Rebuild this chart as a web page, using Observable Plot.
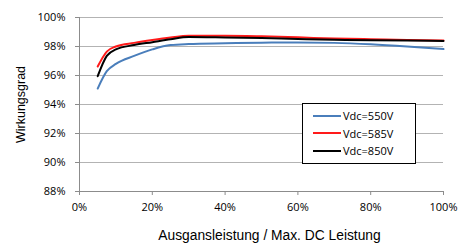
<!DOCTYPE html>
<html><head><meta charset="utf-8">
<script src="https://cdn.jsdelivr.net/npm/d3@7"></script>
<script src="https://cdn.jsdelivr.net/npm/@observablehq/plot@0.6"></script>
<style>
body{margin:0;background:#fff;}
#wrap{position:relative;width:467px;height:248px;}
#legend{position:absolute;left:302px;top:103px;width:114px;height:61px;border:1px solid #000;background:#fff;font:11px "Open Sans",sans-serif;color:#000;box-sizing:border-box;padding-top:3px;}
#legend .row{display:flex;align-items:center;height:17.5px;}
#legend .sw{width:28px;height:2px;margin-left:10px;margin-right:2px;}
</style>
</head><body>
<div id="wrap"><div id="legend"></div></div>
<script>
const loads = [5, 7.5, 10, 15, 20, 25, 30, 40, 50, 60, 70, 80, 90, 100];
const v550 = [95.1, 96.3, 96.8, 97.35, 97.8, 98.1, 98.17, 98.22, 98.26, 98.28, 98.25, 98.15, 98.0, 97.82];
const v585 = [96.62, 97.65, 98.0, 98.25, 98.45, 98.62, 98.74, 98.74, 98.7, 98.63, 98.55, 98.5, 98.45, 98.42];
const v850 = [95.95, 97.35, 97.8, 98.1, 98.3, 98.5, 98.65, 98.62, 98.58, 98.52, 98.47, 98.43, 98.41, 98.38];
const seriesNames = ["Vdc=550V", "Vdc=585V", "Vdc=850V"];
const seriesColors = ["#4a7ebb", "#ff1a1a", "#000000"];
const xTicks = [0, 20, 40, 60, 80, 100];
const yTicks = [88, 90, 92, 94, 96, 98, 100];
const xTitle = "Ausgansleistung / Max. DC Leistung";
const yTitle = "Wirkungsgrad";

const allVals = [v550, v585, v850];
const data = [];
seriesNames.forEach((s, i) => loads.forEach((x, j) => data.push({series: s, x, y: allVals[i][j]})));

const tickFont = {fontFamily: "Open Sans, sans-serif", fontSize: 11};
const titleFont = "Liberation Sans, Arial, sans-serif";
const chart = Plot.plot({
  width: 467, height: 248,
  marginLeft: 79, marginRight: 24, marginTop: 17, marginBottom: 57,
  style: {fontFamily: titleFont, fontSize: "12px", color: "#000", background: "#fff"},
  x: {type: "linear", domain: [0, 100]},
  y: {type: "linear", domain: [88, 100]},
  color: {domain: seriesNames, range: seriesColors},
  marks: [
    Plot.gridY(yTicks.filter(d => d > 88), {stroke: "#b3b3b3", strokeOpacity: 1, strokeWidth: 1}),
    Plot.ruleY([88], {stroke: "#8c8c8c"}),
    Plot.ruleX([0], {stroke: "#8c8c8c"}),
    Plot.axisX({ticks: xTicks, tickSize: 4, stroke: "#8c8c8c", tickFormat: d => d + "%", tickPadding: 8, ...tickFont, label: null}),
    Plot.axisY({ticks: yTicks, tickSize: 4, stroke: "#8c8c8c", tickFormat: d => d + "%", tickPadding: 10, ...tickFont, label: null}),
    Plot.text([xTitle], {frameAnchor: "bottom", dy: 44, dx: 8, lineAnchor: "middle", fontFamily: titleFont, fontSize: 13.8, fill: "#000"}),
    Plot.axisY({ticks: [], tickSize: 0, fontFamily: titleFont, fontSize: 12.5,
      label: yTitle, labelAnchor: "center", labelOffset: 63, labelArrow: "none"}),
    Plot.line(data, {x: "x", y: "y", z: "series", stroke: "series", strokeWidth: 2, curve: "monotone-x"})
  ]
});
document.getElementById("wrap").prepend(chart);

const lg = document.getElementById("legend");
seriesNames.forEach((s, i) => {
  const r = document.createElement("div"); r.className = "row";
  const sw = document.createElement("span"); sw.className = "sw"; sw.style.background = seriesColors[i];
  const t = document.createElement("span"); t.textContent = s;
  r.append(sw, t); lg.append(r);
});
</script>
</body></html>
